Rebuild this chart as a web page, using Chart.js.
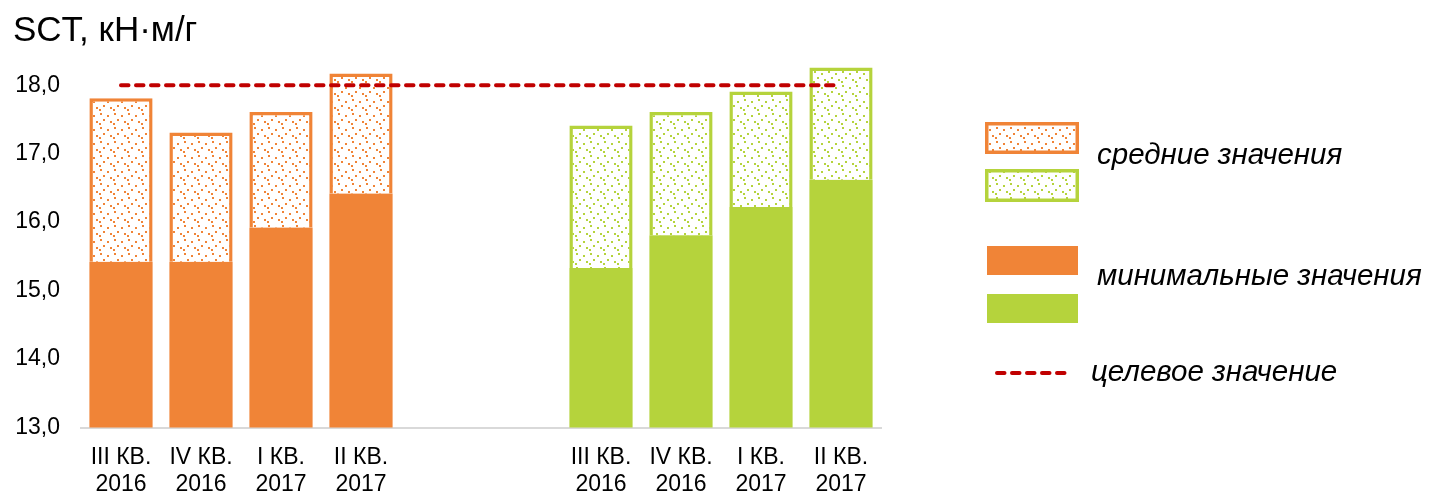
<!DOCTYPE html>
<html>
<head>
<meta charset="utf-8">
<script src="https://cdn.jsdelivr.net/npm/chart.js@4.4.1/dist/chart.umd.min.js"></script>
<style>
  html, body { margin: 0; padding: 0; background: #fff; }
</style>
</head>
<body>
<canvas id="chart" width="1439" height="501"></canvas>
<script>
// categories (two empty slots separate the two groups)
const categories = [
  ['III КВ.', '2016'], ['IV КВ.', '2016'], ['I КВ.', '2017'], ['II КВ.', '2017'],
  '', '',
  ['III КВ.', '2016'], ['IV КВ.', '2016'], ['I КВ.', '2017'], ['II КВ.', '2017']
];

// minimum and average values
const orangeMin = [15.42, 15.42, 15.92, 16.42];
const orangeMean = [17.81, 17.31, 17.61, 18.17];
const greenMin = [15.33, 15.81, 16.22, 16.62];
const greenMean = [17.41, 17.61, 17.91, 18.26];

// target value line
const target = [18.0, 18.0, 18.0, 18.0, 18.0, 18.0, 18.0, 18.0, 18.0, 18.0];

const yTicks = [13, 14, 15, 16, 17, 18];

const ORANGE = '#F08437';
const GREEN = '#B5D33C';
const RED = '#C00000';
const FONT = 'Arial, "Liberation Sans", sans-serif';

function makePattern(color) {
  const c = document.createElement('canvas');
  c.width = 14;
  c.height = 14;
  const g = c.getContext('2d');
  g.fillStyle = '#fff';
  g.fillRect(0, 0, 14, 14);
  g.fillStyle = color;
  const dots = [[2, 1], [9, 3], [5, 7], [12, 9], [1, 11]];
  dots.forEach(([x, y]) => g.fillRect(x, y, 2, 2));
  return g.createPattern(c, 'repeat');
}

const orangePattern = makePattern(ORANGE);
const greenPattern = makePattern(GREEN);

const gap = [null, null];
const minData = [...orangeMin, ...gap, ...greenMin];
const meanData = [
  ...orangeMin.map((m, i) => [m, orangeMean[i]]),
  ...gap,
  ...greenMin.map((m, i) => [m, greenMean[i]])
];
const solidColors = categories.map((c, i) => (i < 5 ? ORANGE : GREEN));
const patternColors = categories.map((c, i) => (i < 5 ? orangePattern : greenPattern));

// title and legend drawn on the canvas
const decorations = {
  id: 'decorations',
  afterDraw(chart) {
    const ctx = chart.ctx;
    ctx.save();
    ctx.fillStyle = '#000';
    ctx.textBaseline = 'alphabetic';
    ctx.textAlign = 'left';
    ctx.font = '35px ' + FONT;
    ctx.fillText('SCT, кН·м/г', 13, 41);

    // swatches
    const box = (x, y, w, h, fill, stroke) => {
      ctx.fillStyle = fill;
      ctx.fillRect(x, y, w, h);
      if (stroke) {
        ctx.strokeStyle = stroke;
        ctx.lineWidth = 3.5;
        ctx.strokeRect(x + 1.75, y + 1.75, w - 3.5, h - 3.5);
      }
    };
    box(985, 122, 94, 32, orangePattern, ORANGE);
    box(985, 169, 94, 33, greenPattern, GREEN);
    box(987, 246, 91, 29, ORANGE);
    box(987, 294, 91, 29, GREEN);

    ctx.strokeStyle = RED;
    ctx.lineWidth = 4;
    ctx.lineCap = 'round';
    ctx.setLineDash([7.5, 7.5]);
    ctx.beginPath();
    ctx.moveTo(997, 373);
    ctx.lineTo(1068, 373);
    ctx.stroke();
    ctx.setLineDash([]);

    ctx.fillStyle = '#000';
    ctx.font = 'italic 29.5px ' + FONT;
    ctx.fillText('средние значения', 1097, 164);
    ctx.fillText('минимальные значения', 1097, 285);
    ctx.fillText('целевое значение', 1091, 381);
    ctx.restore();
  }
};

const chart = new Chart(document.getElementById('chart'), {
  data: {
    labels: categories,
    datasets: [
      {
        type: 'line',
        label: 'целевое значение',
        data: target,
        borderColor: RED,
        borderWidth: 4,
        borderDash: [7.5, 7.5],
        borderCapStyle: 'round',
        pointRadius: 0,
        fill: false,
        order: 0
      },
      {
        type: 'bar',
        label: 'минимальные значения',
        data: minData,
        backgroundColor: solidColors,
        borderWidth: 0,
        grouped: false,
        barPercentage: 0.79,
        categoryPercentage: 1,
        order: 2
      },
      {
        type: 'bar',
        label: 'средние значения',
        data: meanData,
        backgroundColor: patternColors,
        borderColor: solidColors,
        borderWidth: 3.5,
        borderSkipped: 'start',
        grouped: false,
        barPercentage: 0.79,
        categoryPercentage: 1,
        order: 1
      }
    ]
  },
  options: {
    responsive: false,
    devicePixelRatio: 1,
    animation: false,
    layout: { padding: { left: 0, right: 558, top: 51, bottom: 0 } },
    plugins: {
      legend: { display: false },
      tooltip: { enabled: false }
    },
    scales: {
      x: {
        grid: { display: false, drawTicks: false },
        border: { color: '#D9D9D9', width: 2 },
        ticks: {
          color: '#000',
          font: { family: FONT, size: 23 },
          padding: 16,
          maxRotation: 0,
          autoSkip: false
        },
        afterFit(scale) { scale.height = 73.5; }
      },
      y: {
        min: 13,
        max: 18.5,
        grid: { display: false, drawTicks: false },
        border: { display: false },
        ticks: {
          color: '#000',
          font: { family: FONT, size: 23 },
          padding: 21,
          callback: v => v.toFixed(1).replace('.', ',')
        },
        afterBuildTicks(scale) { scale.ticks = yTicks.map(v => ({ value: v })); },
        afterFit(scale) { scale.width = 81; }
      }
    }
  },
  plugins: [decorations]
});
</script>
</body>
</html>
